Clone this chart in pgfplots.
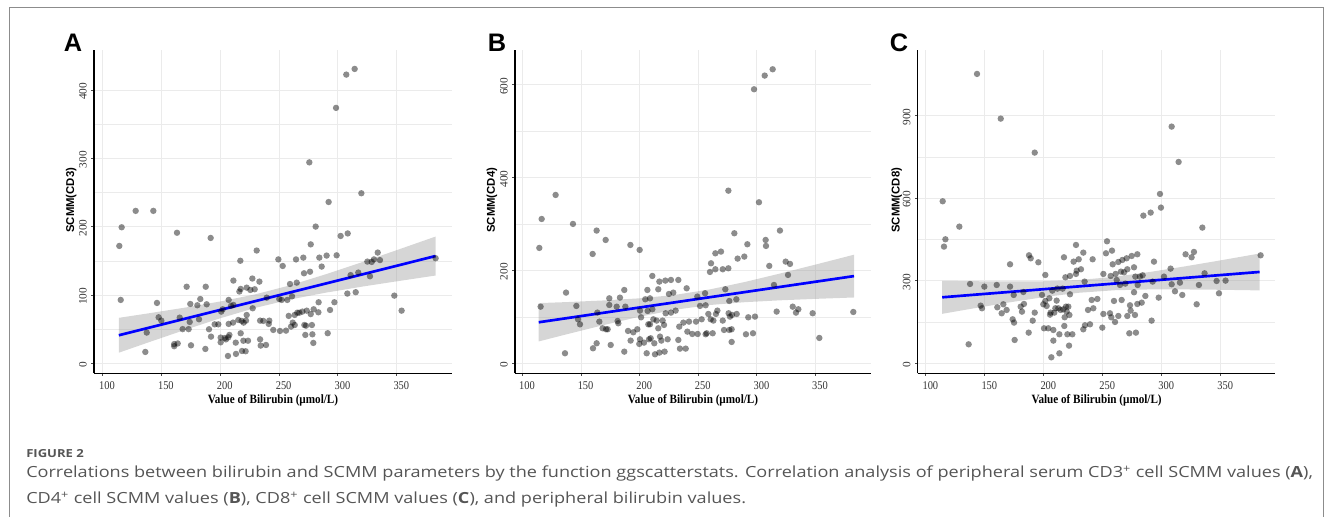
\documentclass[border=0pt]{standalone}
\usepackage{pgfplots}
\pgfplotsset{compat=1.18}
\usepackage{pgfplotstable}
\usepackage{fontspec}
\setmainfont{Liberation Serif}
\newfontfamily\xserif[FakeStretch=0.88]{Liberation Serif}
\newfontfamily\arialf{Liberation Sans}
\newfontfamily\capfont[FakeStretch=1.18]{Open Sans}
\definecolor{capgray}{RGB}{85,85,85}
\definecolor{gridgray}{RGB}{235,235,235}

% CD3
\pgfplotstableread{
x y
114.4 171.7
116.4 199.0
115.6 92.7
128.3 223.0
143.3 223.0
136.5 16.6
137.7 44.9
146.4 88.3
147.8 67.3
150.1 62.4
163.4 191.0
161.0 28.0
164.0 29.0
161.0 25.0
165.7 66.8
171.6 112.0
168.2 50.0
173.3 50.0
174.7 86.8
174.2 60.5
175.3 26.3
180.7 84.9
183.2 94.0
182.1 64.4
187.8 112.0
188.6 86.3
187.5 21.0
190.6 49.8
192.0 183.4
192.3 39.0
195.4 57.0
198.5 57.0
200.5 37.6
200.5 30.7
201.0 75.6
202.2 79.0
205.0 35.0
207.0 38.0
204.0 37.0
207.3 92.7
207.9 41.5
207.3 57.6
206.7 10.7
209.3 84.0
211.3 85.4
211.3 121.0
211.0 59.5
213.3 30.2
213.5 13.7
215.5 63.4
216.4 105.0
217.2 150.0
217.5 108.8
217.5 43.9
218.6 18.0
218.3 62.0
219.8 33.0
220.0 59.5
221.7 17.6
222.0 62.4
222.6 70.7
222.6 110.7
223.7 33.0
225.7 107.3
227.4 124.0
227.7 80.5
229.4 108.3
231.1 165.0
233.4 119.5
234.0 62.4
234.0 35.0
234.5 25.9
236.7 62.0
239.0 26.8
239.6 96.0
241.8 62.4
241.3 57.6
245.2 48.8
249.5 152.0
250.3 94.0
250.9 47.3
253.2 142.4
252.3 92.7
256.0 47.8
257.1 92.7
258.3 69.3
259.4 116.0
260.3 53.7
261.1 98.0
261.7 59.5
263.4 70.7
264.5 152.0
265.1 118.0
263.4 56.0
265.6 74.0
267.3 74.0
269.9 75.6
270.7 154.6
271.3 131.7
271.6 56.0
272.4 41.5
273.0 55.0
273.6 77.0
275.8 294.0
277.0 174.0
276.4 134.0
277.0 72.0
278.0 56.0
278.4 42.4
279.2 29.8
279.5 79.0
281.2 200.0
283.5 74.6
283.7 89.3
284.3 154.6
286.3 141.5
290.5 157.6
291.4 44.0
292.2 236.0
293.4 78.0
297.1 89.3
298.5 373.7
299.0 158.0
302.4 186.3
307.2 422.4
308.4 190.0
308.1 102.0
310.9 129.0
314.3 430.7
315.2 104.0
317.4 132.7
320.0 248.8
325.1 148.8
327.3 127.3
328.8 148.3
330.7 152.0
333.9 162.0
335.8 151.0
348.0 99.0
354.2 77.0
383.1 153.7
}\dataA

% CD4
\pgfplotstableread{
x y
114.5 248.6
115.6 122.0
116.5 311.0
128.4 362.8
136.4 21.6
137.3 152.3
143.2 300.3
146.1 123.6
147.5 94.8
149.2 84.0
160.0 235.6
160.3 32.3
163.4 286.0
163.4 43.1
164.0 109.2
165.7 89.8
168.5 75.4
171.1 265.8
171.4 73.3
172.8 73.3
174.2 140.0
174.2 125.7
175.4 39.5
180.5 122.0
181.3 91.2
181.9 86.2
183.3 141.5
187.0 158.0
187.9 122.0
187.0 25.1
190.2 69.7
192.2 255.0
192.4 48.9
194.7 66.8
198.1 73.3
200.1 244.3
200.4 113.5
200.4 51.7
199.8 41.7
201.3 99.1
203.8 44.5
204.9 137.9
206.1 21.6
206.7 158.0
206.9 112.8
207.5 84.0
208.1 51.7
208.9 140.0
208.9 84.0
209.5 53.9
210.9 188.2
210.9 116.4
211.8 94.8
212.6 43.1
213.2 19.4
214.6 92.0
216.0 159.5
216.0 75.4
216.9 176.0
216.9 23.0
217.5 57.5
218.6 48.9
219.7 92.0
220.9 82.6
221.4 25.1
222.0 178.2
222.3 107.8
224.0 51.7
225.1 149.4
226.8 179.6
226.8 109.2
228.8 152.3
230.8 113.5
233.1 179.6
233.1 50.3
233.9 79.0
234.5 31.6
237.4 87.6
239.4 31.6
240.2 161.6
240.8 68.2
242.2 89.8
245.0 63.2
248.2 89.8
249.6 63.2
249.3 143.7
251.6 123.6
253.0 94.8
255.9 150.9
256.4 125.0
257.3 64.7
256.4 62.5
258.7 106.3
260.1 196.8
260.7 94.8
261.0 215.5
262.4 64.7
263.0 92.0
264.7 202.6
264.7 237.0
265.2 106.3
266.4 113.5
269.5 240.7
271.0 202.6
271.0 92.0
272.1 71.8
273.2 159.5
275.8 372.0
275.8 204.7
276.0 107.8
276.6 134.3
276.6 71.8
277.2 100.6
278.6 46.0
278.6 73.3
278.9 104.2
280.9 280.2
282.6 137.9
283.7 225.6
282.9 106.3
289.4 229.9
292.0 256.5
290.8 62.5
292.8 99.1
296.8 64.7
297.7 590.5
298.5 100.6
301.9 347.0
306.8 620.0
307.6 265.8
307.9 252.9
310.7 209.8
313.6 633.6
314.7 168.8
317.0 111.4
319.8 286.0
324.7 219.1
326.7 190.4
328.4 214.1
330.7 122.0
333.5 109.2
335.5 116.4
347.7 107.8
353.4 54.6
382.4 110.6
}\dataB

% CD8
\pgfplotstableread{
x y
114.4 588.7
115.5 424.0
116.7 450.6
128.5 496.6
136.4 69.0
137.6 288.3
143.5 1051.4
146.6 209.5
147.7 199.9
149.7 278.6
160.2 284.6
160.7 203.5
163.6 889.0
164.4 181.7
165.8 214.4
168.6 193.8
171.5 278.6
171.5 359.7
173.7 159.9
174.9 147.8
174.6 248.3
175.4 84.8
180.5 205.9
181.6 187.7
182.8 259.2
183.3 215.6
187.3 111.4
187.6 392.4
189.0 381.5
190.7 155.0
192.4 184.1
192.4 765.5
195.5 367.0
198.6 248.3
199.7 214.4
200.3 127.2
201.4 321.0
201.4 226.5
202.5 208.3
203.9 127.2
204.8 236.2
205.4 176.8
205.9 184.1
206.5 21.8
207.3 264.0
208.2 121.1
208.2 82.4
209.0 184.1
209.9 199.9
211.0 227.7
211.6 271.3
212.4 199.9
213.3 105.4
213.3 36.3
214.4 193.8
216.1 271.3
216.7 196.2
217.2 385.2
217.5 135.7
217.8 167.2
218.4 312.5
218.9 205.9
219.5 187.7
220.1 105.4
220.9 205.9
221.5 64.2
221.8 175.6
222.3 250.7
222.3 317.3
224.3 105.4
225.4 369.4
227.4 324.6
227.4 430.0
228.0 336.7
229.7 377.9
231.6 341.6
233.6 402.1
233.6 123.5
234.7 296.8
235.0 138.1
237.6 193.8
239.3 141.7
240.7 230.1
241.5 377.9
242.1 199.9
245.5 233.8
249.7 129.6
250.6 179.3
250.6 324.6
252.8 399.7
253.7 443.3
256.2 181.7
256.8 317.3
257.3 167.2
257.9 409.4
258.5 359.7
259.6 226.5
260.5 150.2
261.0 324.6
261.9 302.8
263.3 172.0
263.3 368.2
264.7 284.6
265.5 333.1
266.1 230.1
266.7 375.5
268.1 330.7
269.2 289.5
270.3 381.5
270.9 172.0
270.9 341.6
272.6 109.0
273.2 210.8
273.7 191.4
274.6 390.0
276.6 258.0
276.6 348.8
277.4 175.6
277.7 314.9
278.2 111.4
279.4 396.1
279.4 215.6
279.7 284.6
281.6 314.9
283.1 220.4
283.9 319.8
284.5 536.6
286.2 244.7
290.7 547.5
291.5 155.0
292.4 296.8
293.5 369.4
297.5 238.6
298.6 615.3
299.4 565.7
302.0 314.9
307.6 344.0
308.5 860.0
308.5 287.1
311.3 261.6
314.4 731.6
315.5 293.1
317.5 248.3
320.3 396.1
325.4 385.2
327.4 404.6
329.7 214.4
331.6 284.6
334.5 493.0
336.4 327.0
346.6 299.2
348.6 254.4
354.2 300.4
383.9 392.4
}\dataC

\pgfplotsset{
  panel/.style={
    scale only axis,
    height=242.5pt,
    anchor=south west,
    axis x line*=bottom,
    axis y line*=left,
    axis line style={-, black, line width=1pt},
    xmajorgrids, ymajorgrids, yminorgrids,
    major grid style={gridgray, line width=0.6pt},
    minor grid style={gridgray, line width=0.4pt},
    tick align=outside,
    major tick length=2pt,
    minor tick length=0pt,
    tick style={black!70, line width=0.6pt},
    minor y tick num=1,
    xtick={100,150,...,350},
    /pgf/number format/assume math mode=true,
    xticklabel style={font=\xserif\fontsize{8.9}{9}\selectfont, text=black!80, xshift=3.5pt, yshift=-1pt},
    yticklabel style={font=\fontsize{8.5}{9}\selectfont, text=black!80, rotate=90, anchor=south, xshift=-1pt},
    xlabel={Value of Bilirubin (µmol/L)},
    xlabel style={font=\xserif\bfseries\fontsize{9.5}{10}\selectfont, at={(axis description cs:0.5,-0.083)}, anchor=center},
    ylabel style={font=\arialf\bfseries\fontsize{8.5}{9}\selectfont, anchor=center},
  },
  ptstyle/.style={only marks, mark=*, mark size=2.4pt,
    mark options={solid, draw=black, draw opacity=0, line width=0pt, fill=black, fill opacity=0.45}},
  band/.style={draw=none, fill=black!40, fill opacity=0.4},
  fitline/.style={blue, line width=2pt},
}

\begin{document}
\begin{tikzpicture}[x=0.75pt, y=0.75pt]
\useasboundingbox (0,0) rectangle (1335,517);
\draw[black!45, line width=0.75pt] (9,-2) -- (9,509) -- (1323,509) -- (1323,-2);

% panel A
\begin{axis}[panel, at={(70.5pt,107.8pt)}, width=268.5pt,
  xmin=92.9, xmax=397.0, ymin=-14.6, ymax=458.5,
  ytick={0,100,...,400},
  ylabel={SCMM(CD3)},
  ylabel style={at={(axis description cs:-0.064,0.535)}}]
\addplot[ptstyle] table {\dataA};
\addplot[band] coordinates {(114,15.5) (140,31.1) (170,48.8) (200,65.8) (230,81.1) (260,93.5) (290,103.4) (320,112.0) (350,119.9) (383,128.4)
  (383,185.4) (350,165.5) (320,147.6) (290,130.4) (260,114.3) (230,100.9) (200,90.4) (170,81.4) (140,73.3) (114,66.5)} -- cycle;
\addplot[fitline] coordinates {(114,41.0) (383,156.9)};
\end{axis}

% panel B
\begin{axis}[panel, at={(386.25pt,107.8pt)}, width=267pt,
  xmin=93.75, xmax=397.5, ymin=-21.5, ymax=675.3,
  ytick={0,200,...,600},
  ylabel={SCMM(CD4)},
  ylabel style={at={(axis description cs:-0.065,0.535)}}]
\addplot[ptstyle] table {\dataB};
\addplot[band] coordinates {(114,47.1) (140,63.9) (170,82.7) (200,100.4) (230,115.3) (260,125.6) (290,131.7) (320,135.7) (350,138.8) (383,141.8)
  (383,234.0) (350,212.6) (320,193.5) (290,175.3) (260,159.2) (230,147.3) (200,140.0) (170,135.5) (140,132.1) (114,129.7)} -- cycle;
\addplot[fitline] coordinates {(114,88.4) (383,187.9)};
\end{axis}

% panel C
\begin{axis}[panel, at={(688.3pt,107.8pt)}, width=268.3pt,
  xmin=93.25, xmax=396.5, ymin=-36.2, ymax=1138.6,
  ytick={0,300,...,900},
  ylabel={SCMM(CD8)},
  ylabel style={at={(axis description cs:-0.059,0.535)}}]
\addplot[ptstyle] table {\dataC};
\addplot[band] coordinates {(114,179.8) (140,199.1) (170,220.7) (200,240.5) (230,256.3) (260,265.4) (290,268.4) (320,268.3) (350,267.1) (383,264.9)
  (383,398.9) (350,374.1) (320,352.3) (290,331.8) (260,314.2) (230,302.7) (200,298.1) (170,297.3) (140,298.3) (114,299.8)} -- cycle;
\addplot[fitline] coordinates {(114,239.8) (383,331.9)};
\end{axis}

% panel letters
\node[font=\arialf\bfseries\fontsize{19}{19}\selectfont] at (73,474) {A};
\node[font=\arialf\bfseries\fontsize{19}{19}\selectfont] at (497,474) {B};
\node[font=\arialf\bfseries\fontsize{19}{19}\selectfont] at (899,474) {C};

% caption
\node[anchor=base west, inner sep=0pt, text=capgray, font=\capfont\bfseries\fontsize{8.3}{9}\selectfont] at (26,59.3) {FIGURE 2};
\node[anchor=base west, inner sep=0pt, text=capgray, font=\capfont\fontsize{11.5}{13}\selectfont] at (26,39) {Correlations between bilirubin and SCMM parameters by the function ggscatterstats. Correlation analysis of peripheral serum CD3\textsuperscript{+} cell SCMM values (\textbf{A}),};
\node[anchor=base west, inner sep=0pt, text=capgray, font=\capfont\fontsize{11.5}{13}\selectfont] at (26,13) {CD4\textsuperscript{+} cell SCMM values (\textbf{B}), CD8\textsuperscript{+} cell SCMM values (\textbf{C}), and peripheral bilirubin values.};
\end{tikzpicture}
\end{document}
